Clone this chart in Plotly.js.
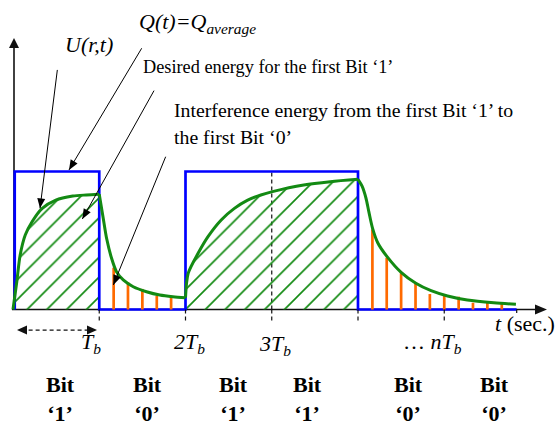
<!DOCTYPE html>
<html><head><meta charset="utf-8">
<script src="https://cdn.plot.ly/plotly-3.0.1.min.js"></script>
<style>html,body{margin:0;padding:0;background:#fff}</style>
</head><body><div id="chart" style="width:558px;height:426px"></div>
<script>
// ---- data (time in units of Tb, amplitude normalised to pulse height) ----
const bits = ['1', '0', '1', '1', '0', '0'];
const bitLabelT = [0.545, 1.565, 2.562, 3.409, 4.580, 5.588];

// transmitted pulse train Q(t)
const pulseT = [0.02, 0.02, 1, 1, 2, 2, 4, 4, 5.84];
const pulseU = [0, 1, 1, 0, 0, 1, 1, 0, 0];

// received U(r,t), segment by segment
const charge1T = [0, 0.044, 0.083, 0.142, 0.221, 0.339, 0.496, 0.693, 0.850, 1.0];
const charge1U = [0, 0.201, 0.395, 0.540, 0.636, 0.733, 0.793, 0.822, 0.830, 0.835];
const decay1T = [1.0, 1.046, 1.085, 1.143, 1.2, 1.278, 1.394, 1.548, 1.702, 1.854, 2.0];
const decay1U = [0.835, 0.661, 0.516, 0.371, 0.274, 0.214, 0.165, 0.129, 0.105, 0.093, 0.086];
const charge2T = [2.0, 2.031, 2.146, 2.261, 2.414, 2.567, 2.721, 2.874, 3.008, 3.371, 3.678, 4.0];
const charge2U = [0.086, 0.262, 0.407, 0.528, 0.649, 0.733, 0.793, 0.830, 0.854, 0.902, 0.926, 0.943];
const decay2T = [4.0, 4.046, 4.092, 4.126, 4.169, 4.23, 4.337, 4.503, 4.671, 4.847, 5.038, 5.268, 5.575, 5.831];
const decay2U = [0.943, 0.895, 0.808, 0.707, 0.588, 0.482, 0.383, 0.267, 0.190, 0.136, 0.098, 0.069, 0.049, 0.038];

// interference samples (orange stems)
const isi1T = [1.167, 1.333, 1.5, 1.667, 1.833];
const isi1U = [0.303, 0.197, 0.149, 0.098, 0.098];
const isi2T = [4.167, 4.333, 4.5, 4.667, 4.833, 5.0, 5.167, 5.333, 5.5, 5.667];
const isi2U = [0.581, 0.375, 0.262, 0.197, 0.112, 0.098, 0.093, 0.049, 0.049, 0.049];

// time ticks and their labels
const tickT = [1, 2, 3, 4, 5];
const tickLabels = ['<i>T<sub>b</sub></i>', '<i>2T<sub>b</sub></i>', '<i>3T<sub>b</sub></i>', '… <i>nT<sub>b</sub></i>'];
const tickLabelT = [0.909, 2.052, 3.043, 4.858];
const tickLabelU = [-0.24, -0.243, -0.258, -0.243];
const endT = 5.84;

// callout texts
const notes = ['<i>U(r,t)</i>', '<i>Q(t)=Q<sub>average</sub></i>',
  'Desired energy for the first Bit ‘1’',
  'Interference energy from the first Bit ‘1’ to', 'the first Bit ‘0’',
  '<i>t</i> (sec.)'];
const noteT = [0.58, 1.438, 1.483, 1.843, 1.843, 5.565];
const noteU = [1.917, 2.076, 1.757, 1.446, 1.250, -0.098];
const noteSize = [22, 22, 18.3, 19.8, 19.8, 22];

// pointer arrows (tip / tail)
const ptrTipT = [0.313, 0.649, 0.804, 1.163];
const ptrTipU = [0.733, 1.011, 0.656, 0.178];
const ptrTailT = [0.514, 1.492, 1.635, 1.770];
const ptrTailU = [1.736, 1.893, 1.586, 1.107];

// ---- build ----
const FONT = 'Liberation Serif';
const GREEN = '#138a13', ORANGE = '#ff6a00', BLUE = '#0000ff', INK = '#111';
const XR = [-0.15072, 6.31884], YR = [-0.84420, 2.24275];
const XS = 558 / (XR[1] - XR[0]), YS = 426 / (YR[1] - YR[0]);

function stems(ts, us) {
  const x = [], y = [];
  ts.forEach((t, i) => { x.push(t, t, null); y.push(0, us[i], null); });
  return {x, y};
}
const s1 = stems(isi1T, isi1U), s2 = stems(isi2T, isi2U);

const hatch = {shape: '/', size: 14, solidity: 0.12, fgcolor: GREEN, bgcolor: 'rgba(0,0,0,0)'};
const curve = (x, y) => ({x, y, mode: 'lines', line: {color: GREEN, width: 3, shape: 'spline', smoothing: 0.8}});
const traces = [
  {x: charge1T, y: charge1U, mode: 'none', fill: 'tozeroy', fillcolor: 'rgba(0,0,0,0)', fillpattern: hatch},
  {x: charge2T, y: charge2U, mode: 'none', fill: 'tozeroy', fillcolor: 'rgba(0,0,0,0)', fillpattern: hatch},
  {x: pulseT, y: pulseU, mode: 'lines', line: {color: BLUE, width: 2.7}},
  {x: s1.x, y: s1.y, mode: 'lines', line: {color: ORANGE, width: 2.7}},
  {x: s2.x, y: s2.y, mode: 'lines', line: {color: ORANGE, width: 2.7}},
  curve(charge1T, charge1U), curve(decay1T, decay1U),
  curve(charge2T, charge2U), curve(decay2T, decay2U)
];
traces.forEach(t => { t.showlegend = false; t.hoverinfo = 'skip'; });

// arrowhead as a pixel-sized path anchored at the tip
function head(tipT, tipU, fromT, fromU, L, W, color) {
  const dx = (tipT - fromT) * XS, dy = (tipU - fromU) * YS;
  const n = Math.hypot(dx, dy), ux = dx / n, uy = dy / n;
  const bx = -L * ux, by = -L * uy, px = -uy * W, py = ux * W;
  const f = v => v.toFixed(2);
  return {type: 'path', xsizemode: 'pixel', ysizemode: 'pixel', xanchor: tipT, yanchor: tipU,
    path: `M0,0L${f(bx + px)},${f(by + py)}L${f(bx - px)},${f(by - py)}Z`,
    fillcolor: color, line: {width: 0}};
}

const axisT0 = 0.0116, xTip = 6.191, yTip = 1.967, dblU = -0.149;
const shapes = [
  {type: 'line', layer: 'below', x0: -0.012, x1: xTip - 0.05, y0: 0, y1: 0, line: {color: INK, width: 1.6}},
  {type: 'line', layer: 'below', x0: axisT0, x1: axisT0, y0: -0.004, y1: yTip - 0.03, line: {color: INK, width: 1.6}},
  {type: 'line', layer: 'below', x0: 3, x1: 3, y0: 0, y1: 1, line: {color: INK, width: 1.2, dash: '4px,3px'}},
  {type: 'line', x0: 0.10, x1: 0.92, y0: dblU, y1: dblU, line: {color: INK, width: 1.2, dash: '4px,3px'}},
  {type: 'line', x0: endT, x1: endT, y0: 0, y1: -0.025, line: {color: INK, width: 1.2}},
  head(xTip, 0, 0, 0, 12, 5, INK),
  head(axisT0, yTip, axisT0, 0, 10, 5, INK),
  head(0.046, dblU, 1, dblU, 10, 4.5, INK),
  head(0.974, dblU, 0, dblU, 10, 4.5, INK)
];
tickT.forEach(t => shapes.push({type: 'line', x0: t, x1: t, y0: 0, y1: -0.098,
  line: {color: INK, width: 1.2, dash: '4px,3px'}}));
ptrTipT.forEach((t, i) => {
  shapes.push({type: 'line', x0: ptrTailT[i], y0: ptrTailU[i], x1: t, y1: ptrTipU[i],
    line: {color: '#000', width: 1}});
  shapes.push(head(t, ptrTipU[i], ptrTailT[i], ptrTailU[i], 10, 4, '#000'));
});

const ann = [];
notes.forEach((s, i) => ann.push({x: noteT[i], y: noteU[i], text: s, showarrow: false,
  xanchor: 'left', yanchor: 'middle', font: {family: FONT, size: noteSize[i], color: '#000'}}));
tickLabels.forEach((s, i) => ann.push({x: tickLabelT[i], y: tickLabelU[i],
  text: s, showarrow: false, xanchor: 'center', yanchor: 'middle',
  font: {family: FONT, size: 22, color: '#000'}}));
bits.forEach((b, i) => ann.push({x: bitLabelT[i], y: -0.65, text: '<b>Bit<br>‘' + b + '’</b>',
  showarrow: false, xanchor: 'center', yanchor: 'middle',
  font: {family: FONT, size: 22, color: '#000'}}));

const layout = {
  width: 558, height: 426,
  margin: {l: 0, r: 0, t: 0, b: 0, pad: 0},
  paper_bgcolor: '#fff', plot_bgcolor: '#fff',
  font: {family: FONT},
  xaxis: {range: XR, visible: false, fixedrange: true},
  yaxis: {range: YR, visible: false, fixedrange: true},
  shapes: shapes, annotations: ann, showlegend: false
};
Plotly.newPlot('chart', traces, layout, {displayModeBar: false, staticPlot: true});
</script></body></html>
